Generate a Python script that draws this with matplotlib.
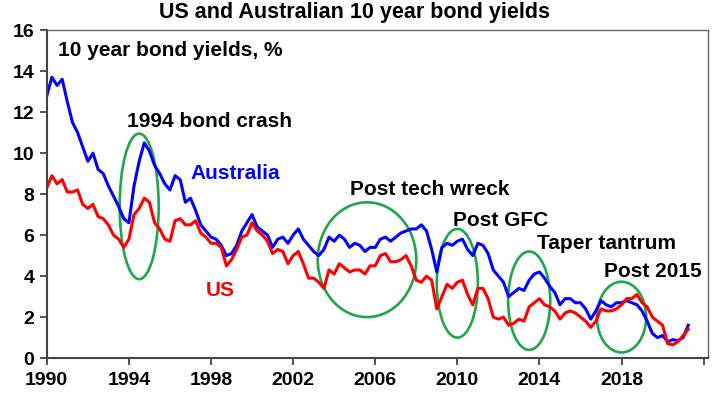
import numpy as np
import matplotlib
matplotlib.use("Agg")
import matplotlib.pyplot as plt
from matplotlib.patches import Ellipse

plt.rcParams["font.family"] = ["Liberation Sans", "DejaVu Sans"]
plt.rcParams["font.weight"] = "bold"

# quarterly readings, 1990 Q1 onwards
australia = [
    12.8, 13.7, 13.3, 13.6,  # 1990
    12.5, 11.5, 11.0, 10.3,  # 1991
    9.6, 10.0, 9.2, 9.0,     # 1992
    8.4, 7.9, 7.4, 6.8,      # 1993
    6.6, 8.4, 9.6, 10.5,     # 1994
    10.1, 9.4, 9.0, 8.5,     # 1995
    8.2, 8.9, 8.7, 7.6,      # 1996
    7.8, 7.2, 6.5, 6.2,      # 1997
    5.9, 5.8, 5.5, 5.0,      # 1998
    5.1, 5.5, 6.2, 6.6,      # 1999
    7.0, 6.4, 6.2, 6.0,      # 2000
    5.4, 5.8, 5.9, 5.6,      # 2001
    6.0, 6.3, 5.8, 5.5,      # 2002
    5.2, 5.0, 5.3, 5.9,      # 2003
    5.7, 6.0, 5.8, 5.4,      # 2004
    5.6, 5.5, 5.2, 5.4,      # 2005
    5.4, 5.8, 5.9, 5.7,      # 2006
    5.9, 6.1, 6.2, 6.3,      # 2007
    6.3, 6.5, 6.2, 5.3,      # 2008
    4.2, 5.4, 5.6, 5.5,      # 2009
    5.7, 5.8, 5.3, 5.0,      # 2010
    5.6, 5.5, 5.1, 4.3,      # 2011
    4.0, 3.7, 3.0, 3.2,      # 2012
    3.4, 3.3, 3.8, 4.1,      # 2013
    4.2, 3.9, 3.5, 3.2,      # 2014
    2.6, 2.9, 2.9, 2.7,      # 2015
    2.7, 2.4, 1.9, 2.3,      # 2016
    2.8, 2.6, 2.5, 2.7,      # 2017
    2.7, 2.8, 2.7, 2.6,      # 2018
    2.3, 1.8, 1.2, 1.0,      # 2019
    1.1, 0.8, 0.9, 0.85,     # 2020
    1.0, 1.6,                # 2021
]
us = [
    8.3, 8.9, 8.5, 8.7,
    8.1, 8.1, 8.2, 7.5,
    7.3, 7.5, 6.9, 6.8,
    6.5, 6.0, 5.8, 5.4,
    5.8, 7.0, 7.3, 7.8,
    7.6, 6.6, 6.3, 5.8,
    5.7, 6.7, 6.8, 6.5,
    6.5, 6.7, 6.1, 5.9,
    5.6, 5.6, 5.4, 4.5,
    4.8, 5.3, 5.9, 6.0,
    6.6, 6.2, 6.0, 5.7,
    5.1, 5.3, 5.2, 4.6,
    5.0, 5.2, 4.6, 3.9,
    3.9, 3.7, 3.4, 4.3,
    4.1, 4.6, 4.4, 4.2,
    4.3, 4.3, 4.1, 4.5,
    4.5, 5.0, 5.1, 4.7,
    4.7, 4.8, 5.0, 4.5,
    3.8, 3.7, 4.0, 3.8,
    2.4, 3.0, 3.6, 3.4,
    3.7, 3.8, 3.1, 2.6,
    3.4, 3.4, 2.9, 2.0,
    1.9, 2.0, 1.6, 1.7,
    1.9, 1.8, 2.5, 2.7,
    2.9, 2.6, 2.5, 2.3,
    1.9, 2.2, 2.3, 2.2,
    2.0, 1.8, 1.5, 1.8,
    2.4, 2.3, 2.3, 2.4,
    2.6, 2.9, 2.9, 3.1,
    2.7, 2.5, 2.0, 1.8,
    1.6, 0.7, 0.65, 0.8,
    1.1, 1.4,
]
dates = 1990 + np.arange(len(australia)) / 4

# (label, centre year, centre yield, width in years, height in %)
episodes = [
    ("1994 bond crash", 1994.5, 7.4, 1.9, 7.1),
    ("Post tech wreck", 2005.6, 4.8, 4.8, 5.6),
    ("Post GFC", 2010.0, 3.65, 2.0, 5.3),
    ("Taper tantrum", 2013.5, 2.8, 2.05, 4.8),
    ("Post 2015", 2018.0, 2.0, 2.4, 3.45),
]
label_pos = {
    "1994 bond crash": (1993.9, 11.55),
    "Post tech wreck": (2004.76, 8.24),
    "Post GFC": (2009.77, 6.73),
    "Taper tantrum": (2013.86, 5.6),
    "Post 2015": (2017.15, 4.2),
}

fig = plt.figure(figsize=(7.2, 4.01), dpi=100)
ax = fig.add_axes([0.065, 0.107, 0.918, 0.818])

ax.plot(dates, australia, color="#0000FF", lw=2.2)
ax.plot(dates, us, color="#FF0000", lw=2.2)

for name, cx, cy, w, h in episodes:
    ax.add_patch(Ellipse((cx, cy), w, h, fill=False, edgecolor="#1FA64A", lw=1.9))
    lx, ly = label_pos[name]
    ax.text(lx, ly, name, fontsize=15, fontweight="bold", ha="left", va="center")

ax.text(1990.55, 15.0, "10 year bond yields, %", fontsize=15, fontweight="bold", va="center")
ax.text(1996.98, 8.98, "Australia", fontsize=15, fontweight="bold", color="#0000FF", va="center")
ax.text(1997.75, 3.3, "US", fontsize=15, fontweight="bold", color="#FF0000", va="center")

ax.set_xlim(1990, 2022.2)
ax.set_ylim(0, 16)
ax.set_yticks(range(0, 17, 2))
xt = list(range(1990, 2023, 4))
ax.set_xticks(xt)
ax.set_xticklabels([str(y) if y < 2022 else "" for y in xt])
ax.tick_params(axis="both", labelsize=14, width=1.3, length=5, color="#444444")
ax.tick_params(axis="x", pad=5)
ax.tick_params(axis="y", pad=4)
for lab in ax.get_xticklabels() + ax.get_yticklabels():
    lab.set_fontweight("bold")

for side in ["left", "bottom"]:
    ax.spines[side].set_linewidth(1.5)
    ax.spines[side].set_color("#444444")
for side in ["top", "right"]:
    ax.spines[side].set_linewidth(1.0)
    ax.spines[side].set_color("#666666")

fig.text(0.493, 0.968, "US and Australian 10 year bond yields", fontsize=15.5,
         fontweight="bold", ha="center", va="center")

fig.savefig("out.png", dpi=100)
